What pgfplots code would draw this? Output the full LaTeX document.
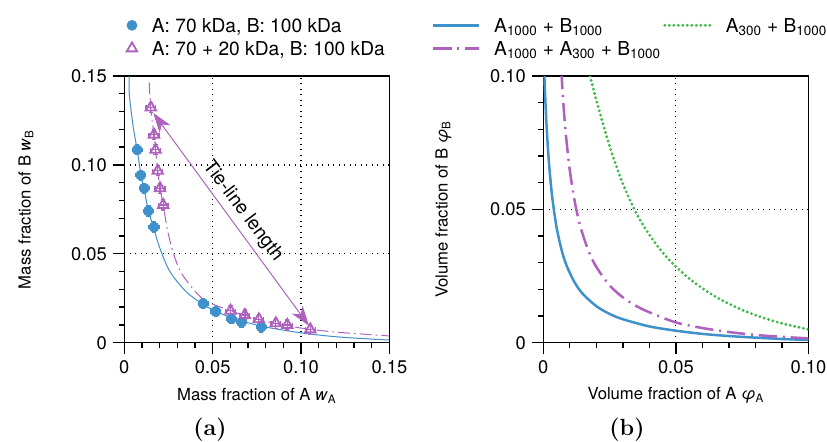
\documentclass[border=0pt]{standalone}
\usepackage{fontspec}
\setmainfont{TeX Gyre Heros}
\newfontfamily\lmfont{Latin Modern Roman}
\usepackage{pgfplots}
\pgfplotsset{compat=1.18}
\usetikzlibrary{arrows.meta}
\definecolor{cblue}{RGB}{63,145,203}
\definecolor{cpurple}{RGB}{174,98,190}
\definecolor{cgreen}{RGB}{62,184,72}

\pgfplotsset{
  panel/.style={
    width=159.1pt, height=160pt, scale only axis,
    axis line style={line width=0.8pt},
    tick style={line width=0.8pt, black},
    tick align=outside,
    xtick pos=left, ytick pos=left,
    major tick length=7pt, minor tick length=3pt,
    minor tick num=4,
    grid=major,
    major grid style={black, line width=0.7pt, dash pattern=on 0.7pt off 2.6pt},
    tick label style={font=\fontsize{11}{13}\selectfont},
    label style={font=\fontsize{11.5}{13.8}\selectfont},
    every axis x label/.style={at={(axis description cs:0.5,-0.199)}, anchor=center},
    legend cell align=left,
  },
  ebars/.style={error bars/.cd, x dir=both, x explicit, y dir=both, y explicit,
    error bar style={line width=0.8pt},
    error mark options={rotate=90, mark size=1.3pt, line width=0.8pt}},
}

\begin{document}
\begin{tikzpicture}
% ---------------- (a) mass fractions ----------------
\begin{axis}[panel,
  at={(0pt,0pt)},
  xmin=0, xmax=0.15, ymin=0, ymax=0.15,
  xtick={0,0.05,0.1,0.15}, xticklabels={0,0.05,0.10,0.15},
  ytick={0,0.05,0.1,0.15}, yticklabels={0,0.05,0.10,0.15},
  xlabel={Mass fraction of A \textit{w}\textsubscript{A}},
  ylabel={Mass fraction of B \textit{w}\textsubscript{B}},
  every axis y label/.style={at={(axis description cs:-0.371,0.5)}, rotate=90, anchor=center},
  legend style={draw=none, fill=none, at={(axis description cs:0,1)}, anchor=north west,
    xshift=-2.6pt, yshift=34.75pt, inner sep=0pt, column sep=0pt, row sep=5.5pt,
    nodes={inner sep=0pt, text height=8.3pt, text depth=0pt, font=\fontsize{11.5}{13.8}\selectfont}},
  legend image code/.code={\path[draw=none] (0pt,0pt) -- (19pt,0pt); \draw[#1] plot coordinates {(7pt,0pt)};},
]
% binodal fit
\addplot[cblue, line width=0.6pt, smooth, forget plot] coordinates {
  (0.0027,0.150) (0.0029,0.139) (0.0051,0.121) (0.0073,0.1085) (0.0093,0.095)
  (0.0113,0.086) (0.0136,0.0745) (0.0168,0.064) (0.0198,0.054) (0.0258,0.040)
  (0.0352,0.0285) (0.0446,0.0215) (0.0516,0.0178) (0.0606,0.0140) (0.0700,0.0112)
  (0.0800,0.0088) (0.0954,0.0062) (0.1100,0.0043) (0.1218,0.0032) (0.1350,0.0023)
  (0.1500,0.0015)};
\addplot[cpurple, line width=0.6pt, smooth, dash pattern=on 7pt off 2.5pt on 1pt off 2.5pt, forget plot] coordinates {
  (0.0141,0.1464) (0.0149,0.1323) (0.0168,0.117) (0.0177,0.1085) (0.0189,0.0967)
  (0.0202,0.0869) (0.0220,0.0775) (0.0245,0.0630) (0.0280,0.0495) (0.0330,0.0380)
  (0.0446,0.0245) (0.0601,0.0180) (0.0682,0.0152) (0.0761,0.0130) (0.0857,0.0108)
  (0.0922,0.0095) (0.1052,0.0075) (0.1218,0.0058) (0.1500,0.0038)};
% tie line
\addplot[cpurple, line width=0.6pt, forget plot,
  {Stealth[length=12pt,width=8pt,inset=3.5pt]}-{Stealth[length=12pt,width=8pt,inset=3.5pt]}]
  coordinates {(0.0164,0.1292) (0.1045,0.0095)};
\node[font=\fontsize{11.5}{13.8}\selectfont, rotate=-53] at (axis cs:0.0670,0.0740) {Tie-line length};
% measured points
\addplot[only marks, mark=*, mark size=3pt, cblue, forget plot, ebars]
  coordinates {
  (0.0073,0.1085) +- (0.0028,0.0028) (0.0093,0.0942) +- (0.0028,0.0028)
  (0.0113,0.0869) +- (0.0028,0.0028) (0.0136,0.0741) +- (0.0028,0.0028)
  (0.0168,0.0650) +- (0.0028,0.0028) (0.0446,0.0220) +- (0.0028,0.0028)
  (0.0517,0.0175) +- (0.0028,0.0028) (0.0606,0.0135) +- (0.0028,0.0028)
  (0.0663,0.0115) +- (0.0028,0.0028) (0.0775,0.0088) +- (0.0028,0.0028)};
\addplot[only marks, mark=triangle, mark size=3.6pt, cpurple, mark options={line width=1.1pt, fill=white}, forget plot, ebars]
  coordinates {
  (0.0150,0.1323) +- (0.0028,0.0028) (0.0168,0.1170) +- (0.0028,0.0028)
  (0.0177,0.1085) +- (0.0028,0.0028) (0.0189,0.0967) +- (0.0028,0.0028)
  (0.0202,0.0869) +- (0.0028,0.0028) (0.0220,0.0775) +- (0.0028,0.0028)
  (0.0601,0.0180) +- (0.0028,0.0028) (0.0682,0.0156) +- (0.0028,0.0028)
  (0.0761,0.0132) +- (0.0028,0.0028) (0.0857,0.0109) +- (0.0028,0.0028)
  (0.0922,0.0100) +- (0.0028,0.0028) (0.1052,0.0075) +- (0.0028,0.0028)};
\addlegendimage{only marks, mark=*, mark size=3pt, cblue}
\addlegendentry{A: 70 kDa, B: 100 kDa}
\addlegendimage{only marks, mark=triangle, mark size=3.6pt, cpurple, mark options={line width=1.1pt}}
\addlegendentry{A: 70 + 20 kDa, B: 100 kDa}
\end{axis}

% ---------------- (b) volume fractions ----------------
\begin{axis}[panel,
  at={(251.4pt,0pt)},
  xmin=0, xmax=0.1, ymin=0, ymax=0.1,
  xtick={0,0.05,0.1}, xticklabels={0,0.05,0.10},
  ytick={0,0.05,0.1}, yticklabels={0,0.05,0.10},
  xlabel={Volume fraction of A \textit{φ}\textsubscript{A}},
  ylabel={Volume fraction of B \textit{φ}\textsubscript{B}},
  every axis y label/.style={at={(axis description cs:-0.377,0.5)}, rotate=90, anchor=center},
  legend columns=2,
  legend style={draw=none, fill=none, at={(axis description cs:0,1)}, anchor=north west,
    xshift=-67pt, yshift=34.75pt, inner sep=0pt, column sep=0pt, row sep=5.5pt,
    nodes={inner sep=0pt, text height=8.3pt, text depth=0pt, font=\fontsize{11.5}{13.8}\selectfont}},
  legend image code/.code={\path[draw=none] (0pt,0pt) -- (36.6pt,0pt); \draw[#1] (0pt,0pt) -- (27.4pt,0pt);},
]
\addplot[cblue, line width=1.5pt, smooth] coordinates {
  (0.0004,0.1003) (0.0008,0.0903) (0.0012,0.0820) (0.0018,0.0721) (0.0025,0.0631)
  (0.0035,0.0535) (0.0050,0.0433) (0.0070,0.0344) (0.0090,0.0284) (0.0120,0.0223)
  (0.0150,0.0182) (0.0200,0.0137) (0.0250,0.0108) (0.0300,0.0088) (0.0400,0.0061)
  (0.0500,0.0045) (0.0600,0.0033) (0.0700,0.0025) (0.0800,0.0019) (0.0900,0.0014)
  (0.1000,0.0010)};
\addlegendentry{\makebox[101.4pt][l]{A\textsubscript{1000} + B\textsubscript{1000}}}
\addplot[cgreen, line width=1.9pt, smooth, line cap=round, dash pattern=on 0pt off 2.7pt] coordinates {
  (0.0176,0.1000) (0.0195,0.0928) (0.0214,0.0860) (0.0240,0.0770) (0.0264,0.0695)
  (0.0300,0.0596) (0.0340,0.0507) (0.0380,0.0435) (0.0430,0.0363) (0.0480,0.0305)
  (0.0540,0.0249) (0.0600,0.0204) (0.0670,0.0161) (0.0750,0.0123) (0.0830,0.0093)
  (0.0910,0.0070) (0.1000,0.0050)};
\addlegendentry{A\textsubscript{300} + B\textsubscript{1000}}
\addplot[cpurple, line width=1.5pt, smooth, dash pattern=on 11pt off 3.5pt on 1.2pt off 3.5pt] coordinates {
  (0.0068,0.1019) (0.0075,0.0907) (0.0085,0.0782) (0.0100,0.0646) (0.0120,0.0522)
  (0.0140,0.0435) (0.0170,0.0345) (0.0200,0.0284) (0.0250,0.0215) (0.0300,0.0170)
  (0.0350,0.0138) (0.0400,0.0114) (0.0500,0.0076) (0.0600,0.0055) (0.0700,0.0040)
  (0.0800,0.0029) (0.0900,0.0022) (0.1000,0.0016)};
\addlegendentry{\makebox[101.4pt][l]{A\textsubscript{1000} + A\textsubscript{300} + B\textsubscript{1000}}}
\end{axis}

\node[font=\lmfont\bfseries\fontsize{14}{16}\selectfont] at (51.4pt,-52.4pt) {(a)};
\node[font=\lmfont\bfseries\fontsize{14}{16}\selectfont] at (301.6pt,-52.4pt) {(b)};

\pgfresetboundingbox
\path[use as bounding box] (-74.58pt,-59.58pt) rectangle (421.62pt,205.62pt);
\end{tikzpicture}
\end{document}
